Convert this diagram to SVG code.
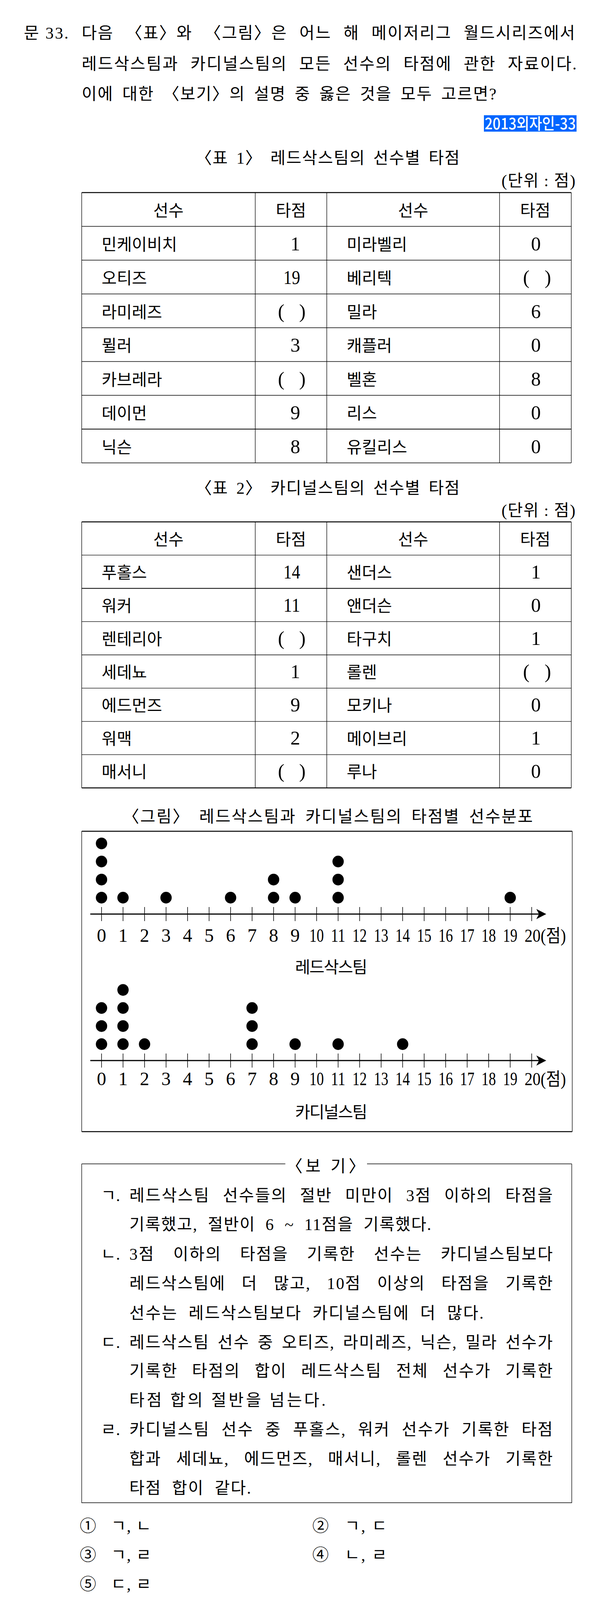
<svg xmlns="http://www.w3.org/2000/svg" width="1535" height="4141" viewBox="0 0 1535 4141">
<style>
.t{font-family:"Liberation Serif","Noto Sans CJK KR",serif;font-size:42px;fill:#000}
.m{text-anchor:middle}
.e{text-anchor:end}
.n{font-family:"Liberation Serif",serif;font-size:50px;fill:#000}
.ax{font-family:"Liberation Serif",serif;font-size:48px;fill:#000;text-anchor:middle}
.unit{font-family:"Liberation Serif","Noto Sans CJK KR",serif;font-size:46px;fill:#000}
.ln{stroke:#000;stroke-width:1.3;fill:none}
.th{stroke:#000;stroke-width:2.5;fill:none}
.mid{stroke:#000;stroke-width:2;fill:none}
.axis{stroke:#000;stroke-width:3;fill:none}
.tick{stroke:#000;stroke-width:1.5;fill:none}
.dot{fill:#000}
.tag{font-family:"Noto Sans CJK KR","Noto Sans",sans-serif;font-size:40px;font-weight:500;fill:#fff}
</style>
<rect width="1535" height="4141" fill="#fff"/>

<g id="question">
<text class="t" x="61" y="98.5" textLength="114" lengthAdjust="spacing">문 33.</text>
<text class="t" x="209" y="98.5" style="word-spacing:17.8px" textLength="1262" lengthAdjust="spacing">다음 〈표〉와 〈그림〉은 어느 해 메이저리그 월드시리즈에서</text>
<text class="t" x="209" y="178" style="word-spacing:16.8px" textLength="1266" lengthAdjust="spacing">레드삭스팀과 카디널스팀의 모든 선수의 타점에 관한 자료이다.</text>
<text class="t" x="209" y="255" style="word-spacing:9.5px" textLength="1061" lengthAdjust="spacing">이에 대한 〈보기〉의 설명 중 옳은 것을 모두 고르면?</text>
</g>

<g id="tag">
<rect x="1238" y="295" width="237" height="42" fill="#0066FF"/>
<text class="tag" x="1240" y="331" textLength="233" lengthAdjust="spacingAndGlyphs">2013외자인-33</text>
</g>

<g id="table1">
<text class="t" x="500" y="419" style="word-spacing:8px" textLength="676" lengthAdjust="spacing">〈표 1〉 레드삭스팀의 선수별 타점</text>
<text class="t" x="1283" y="477" textLength="189" lengthAdjust="spacing">(단위 : 점)</text>
<path class="th" d="M209,493 H1461.5"/>
<path class="ln" d="M209,579.5 H1461.5 M209,666 H1461.5 M209,752.5 H1461.5 M209,839 H1461.5 M209,925.5 H1461.5 M209,1012 H1461.5 M209,1185 H1461.5"/>
<path class="mid" d="M209,1098.5 H1461.5"/>
<path class="ln" d="M209,493 V1185 M653,493 V1185 M836,493 V1185 M1278,493 V1185 M1461.5,493 V1185"/>
<g class="t">
<text class="m" x="431" y="554">선수</text><text class="m" x="744.5" y="554">타점</text><text class="m" x="1057" y="554">선수</text><text class="m" x="1369.5" y="554">타점</text>
<text x="260" y="641">민케이비치</text><text x="887" y="641">미라벨리</text>
<text x="260" y="727">오티즈</text><text x="887" y="727">베리텍</text>
<text x="260" y="814">라미레즈</text><text x="887" y="814">밀라</text>
<text x="260" y="900">뮐러</text><text x="887" y="900">캐플러</text>
<text x="260" y="987">카브레라</text><text x="887" y="987">벨혼</text>
<text x="260" y="1073">데이먼</text><text x="887" y="1073">리스</text>
<text x="260" y="1160">닉슨</text><text x="887" y="1160">유킬리스</text>
</g>
<g class="n">
<text class="e" x="768" y="641">1</text><text class="m" x="1371" y="641">0</text>
<text class="e" x="768" y="727" textLength="43" lengthAdjust="spacingAndGlyphs">19</text><text x="1338" y="727">(</text><text class="e" x="1410" y="727">)</text>
<text x="711" y="814">(</text><text class="e" x="782" y="814">)</text><text class="m" x="1371" y="814">6</text>
<text class="e" x="768" y="900">3</text><text class="m" x="1371" y="900">0</text>
<text x="711" y="987">(</text><text class="e" x="782" y="987">)</text><text class="m" x="1371" y="987">8</text>
<text class="e" x="768" y="1073">9</text><text class="m" x="1371" y="1073">0</text>
<text class="e" x="768" y="1160">8</text><text class="m" x="1371" y="1160">0</text>
</g>
</g>

<g id="table2">
<text class="t" x="500" y="1264" style="word-spacing:8px" textLength="676" lengthAdjust="spacing">〈표 2〉 카디널스팀의 선수별 타점</text>
<text class="t" x="1283" y="1321" textLength="189" lengthAdjust="spacing">(단위 : 점)</text>
<path class="th" d="M209,1336 H1461.5 M209,2017 H1461.5"/>
<path class="ln" d="M209,1421.1 H1461.5 M209,1591.4 H1461.5 M209,1676.5 H1461.5 M209,1761.6 H1461.5 M209,1846.8 H1461.5 M209,1931.9 H1461.5"/>
<path class="mid" d="M209,1506.3 H1461.5"/>
<path class="ln" d="M209,1336 V2017 M653,1336 V2017 M836,1336 V2017 M1278,1336 V2017 M1461.5,1336 V2017"/>
<g class="t">
<text class="m" x="431" y="1396">선수</text><text class="m" x="744.5" y="1396">타점</text><text class="m" x="1057" y="1396">선수</text><text class="m" x="1369.5" y="1396">타점</text>
<text x="260" y="1481">푸홀스</text><text x="887" y="1481">샌더스</text>
<text x="260" y="1566">워커</text><text x="887" y="1566">앤더슨</text>
<text x="260" y="1651">렌테리아</text><text x="887" y="1651">타구치</text>
<text x="260" y="1736">세데뇨</text><text x="887" y="1736">롤렌</text>
<text x="260" y="1821">에드먼즈</text><text x="887" y="1821">모키나</text>
<text x="260" y="1906">워맥</text><text x="887" y="1906">메이브리</text>
<text x="260" y="1991">매서니</text><text x="887" y="1991">루나</text>
</g>
<g class="n">
<text class="e" x="768" y="1481" textLength="43" lengthAdjust="spacingAndGlyphs">14</text><text class="m" x="1371" y="1481">1</text>
<text class="e" x="768" y="1566" textLength="43" lengthAdjust="spacingAndGlyphs">11</text><text class="m" x="1371" y="1566">0</text>
<text x="711" y="1651">(</text><text class="e" x="782" y="1651">)</text><text class="m" x="1371" y="1651">1</text>
<text class="e" x="768" y="1736">1</text><text x="1338" y="1736">(</text><text class="e" x="1410" y="1736">)</text>
<text class="e" x="768" y="1821">9</text><text class="m" x="1371" y="1821">0</text>
<text class="e" x="768" y="1906">2</text><text class="m" x="1371" y="1906">1</text>
<text x="711" y="1991">(</text><text class="e" x="782" y="1991">)</text><text class="m" x="1371" y="1991">0</text>
</g>
</g>

<g id="figure">
<text class="t" x="314" y="2105" style="word-spacing:10px" textLength="1049" lengthAdjust="spacing">〈그림〉 레드삭스팀과 카디널스팀의 타점별 선수분포</text>
<path class="th" d="M209,2128 H1464 M209,2897 H1464"/>
<path class="ln" d="M209,2128 V2897 M1464,2128 V2897"/>

<g id="redsox">
<path class="axis" d="M231,2340 H1380"/>
<path d="M1397.5,2340 L1372,2327 L1379,2340 L1372,2353 Z" fill="#000"/>
<path class="tick" d="M259.7,2322V2358M314.7,2322V2358M369.8,2322V2358M424.8,2322V2358M479.8,2322V2358M534.9,2322V2358M589.9,2322V2358M644.9,2322V2358M699.9,2322V2358M755,2322V2358M810,2322V2358M865,2322V2358M920.1,2322V2358M975.1,2322V2358M1030.1,2322V2358M1085.2,2322V2358M1140.2,2322V2358M1195.2,2322V2358M1250.2,2322V2358M1305.3,2322V2358M1360.3,2322V2358"/>
<g class="dot">
<ellipse cx="259.7" cy="2298" rx="14.5" ry="15"/><ellipse cx="259.7" cy="2251.7" rx="14.5" ry="15"/><ellipse cx="259.7" cy="2205.5" rx="14.5" ry="15"/><ellipse cx="259.7" cy="2159.2" rx="14.5" ry="15"/>
<ellipse cx="314.7" cy="2298" rx="14.5" ry="15"/>
<ellipse cx="424.8" cy="2298" rx="14.5" ry="15"/>
<ellipse cx="589.9" cy="2298" rx="14.5" ry="15"/>
<ellipse cx="699.9" cy="2298" rx="14.5" ry="15"/><ellipse cx="699.9" cy="2251.7" rx="14.5" ry="15"/>
<ellipse cx="755" cy="2298" rx="14.5" ry="15"/>
<ellipse cx="865" cy="2298" rx="14.5" ry="15"/><ellipse cx="865" cy="2251.7" rx="14.5" ry="15"/><ellipse cx="865" cy="2205.5" rx="14.5" ry="15"/>
<ellipse cx="1305.3" cy="2298" rx="14.5" ry="15"/>
</g>
<g class="ax">
<text x="259.7" y="2411">0</text><text x="314.7" y="2411">1</text><text x="369.8" y="2411">2</text><text x="424.8" y="2411">3</text><text x="479.8" y="2411">4</text><text x="534.9" y="2411">5</text><text x="589.9" y="2411">6</text><text x="644.9" y="2411">7</text><text x="699.9" y="2411">8</text><text x="755" y="2411">9</text>
<text x="810" y="2411" textLength="37" lengthAdjust="spacingAndGlyphs">10</text><text x="865" y="2411" textLength="37" lengthAdjust="spacingAndGlyphs">11</text><text x="920.1" y="2411" textLength="37" lengthAdjust="spacingAndGlyphs">12</text><text x="975.1" y="2411" textLength="37" lengthAdjust="spacingAndGlyphs">13</text><text x="1030.1" y="2411" textLength="37" lengthAdjust="spacingAndGlyphs">14</text><text x="1085.2" y="2411" textLength="37" lengthAdjust="spacingAndGlyphs">15</text><text x="1140.2" y="2411" textLength="37" lengthAdjust="spacingAndGlyphs">16</text><text x="1195.2" y="2411" textLength="37" lengthAdjust="spacingAndGlyphs">17</text><text x="1250.2" y="2411" textLength="37" lengthAdjust="spacingAndGlyphs">18</text><text x="1305.3" y="2411" textLength="37" lengthAdjust="spacingAndGlyphs">19</text>
</g>
<text class="unit" x="1342" y="2411" textLength="106" lengthAdjust="spacingAndGlyphs">20(점)</text>
<text class="t" x="755" y="2491" textLength="185" lengthAdjust="spacing">레드삭스팀</text>
</g>

<g id="cardinals">
<path class="axis" d="M231,2715 H1380"/>
<path d="M1397.5,2715 L1372,2702 L1379,2715 L1372,2728 Z" fill="#000"/>
<path class="tick" d="M259.7,2697V2733M314.7,2697V2733M369.8,2697V2733M424.8,2697V2733M479.8,2697V2733M534.9,2697V2733M589.9,2697V2733M644.9,2697V2733M699.9,2697V2733M755,2697V2733M810,2697V2733M865,2697V2733M920.1,2697V2733M975.1,2697V2733M1030.1,2697V2733M1085.2,2697V2733M1140.2,2697V2733M1195.2,2697V2733M1250.2,2697V2733M1305.3,2697V2733M1360.3,2697V2733"/>
<g class="dot">
<ellipse cx="259.7" cy="2673" rx="14.5" ry="15"/><ellipse cx="259.7" cy="2626.7" rx="14.5" ry="15"/><ellipse cx="259.7" cy="2580.5" rx="14.5" ry="15"/>
<ellipse cx="314.7" cy="2673" rx="14.5" ry="15"/><ellipse cx="314.7" cy="2626.7" rx="14.5" ry="15"/><ellipse cx="314.7" cy="2580.5" rx="14.5" ry="15"/><ellipse cx="314.7" cy="2534.2" rx="14.5" ry="15"/>
<ellipse cx="369.8" cy="2673" rx="14.5" ry="15"/>
<ellipse cx="644.9" cy="2673" rx="14.5" ry="15"/><ellipse cx="644.9" cy="2626.7" rx="14.5" ry="15"/><ellipse cx="644.9" cy="2580.5" rx="14.5" ry="15"/>
<ellipse cx="755" cy="2673" rx="14.5" ry="15"/>
<ellipse cx="865" cy="2673" rx="14.5" ry="15"/>
<ellipse cx="1030.1" cy="2673" rx="14.5" ry="15"/>
</g>
<g class="ax">
<text x="259.7" y="2778">0</text><text x="314.7" y="2778">1</text><text x="369.8" y="2778">2</text><text x="424.8" y="2778">3</text><text x="479.8" y="2778">4</text><text x="534.9" y="2778">5</text><text x="589.9" y="2778">6</text><text x="644.9" y="2778">7</text><text x="699.9" y="2778">8</text><text x="755" y="2778">9</text>
<text x="810" y="2778" textLength="37" lengthAdjust="spacingAndGlyphs">10</text><text x="865" y="2778" textLength="37" lengthAdjust="spacingAndGlyphs">11</text><text x="920.1" y="2778" textLength="37" lengthAdjust="spacingAndGlyphs">12</text><text x="975.1" y="2778" textLength="37" lengthAdjust="spacingAndGlyphs">13</text><text x="1030.1" y="2778" textLength="37" lengthAdjust="spacingAndGlyphs">14</text><text x="1085.2" y="2778" textLength="37" lengthAdjust="spacingAndGlyphs">15</text><text x="1140.2" y="2778" textLength="37" lengthAdjust="spacingAndGlyphs">16</text><text x="1195.2" y="2778" textLength="37" lengthAdjust="spacingAndGlyphs">17</text><text x="1250.2" y="2778" textLength="37" lengthAdjust="spacingAndGlyphs">18</text><text x="1305.3" y="2778" textLength="37" lengthAdjust="spacingAndGlyphs">19</text>
</g>
<text class="unit" x="1342" y="2778" textLength="106" lengthAdjust="spacingAndGlyphs">20(점)</text>
<text class="t" x="755" y="2862" textLength="185" lengthAdjust="spacing">카디널스팀</text>
</g>
</g>

<g id="bogi">
<path class="ln" d="M209,2979.5 H730 M939,2979.5 H1462.7 M209,2979.5 V3847 H1462.7 V2979.5"/>
<text class="t" x="732" y="3000" textLength="202" lengthAdjust="spacing">〈보  기〉</text>
<g class="t">
<text x="258" y="3075">ㄱ.</text>
<text x="331" y="3075" style="word-spacing:19.5px" textLength="1083" lengthAdjust="spacing">레드삭스팀 선수들의 절반 미만이 3점 이하의 타점을</text>
<text x="331" y="3149" style="word-spacing:13.4px" textLength="772" lengthAdjust="spacing">기록했고, 절반이 6 ~ 11점을 기록했다.</text>
<text x="258" y="3225">ㄴ.</text>
<text x="331" y="3225" style="word-spacing:34px" textLength="1083" lengthAdjust="spacing">3점 이하의 타점을 기록한 선수는 카디널스팀보다</text>
<text x="331" y="3300" style="word-spacing:28px" textLength="1083" lengthAdjust="spacing">레드삭스팀에 더 많고, 10점 이상의 타점을 기록한</text>
<text x="331" y="3376" style="word-spacing:14px" textLength="906" lengthAdjust="spacing">선수는 레드삭스팀보다 카디널스팀에 더 많다.</text>
<text x="258" y="3451">ㄷ.</text>
<text x="331" y="3451" style="word-spacing:7.7px" textLength="1083" lengthAdjust="spacing">레드삭스팀 선수 중 오티즈, 라미레즈, 닉슨, 밀라 선수가</text>
<text x="331" y="3524" style="word-spacing:23px" textLength="1083" lengthAdjust="spacing">기록한 타점의 합이 레드삭스팀 전체 선수가 기록한</text>
<text x="331" y="3599" textLength="502" lengthAdjust="spacing">타점 합의 절반을 넘는다.</text>
<text x="258" y="3674">ㄹ.</text>
<text x="331" y="3674" style="word-spacing:16.7px" textLength="1083" lengthAdjust="spacing">카디널스팀 선수 중 푸홀스, 워커 선수가 기록한 타점</text>
<text x="331" y="3749" style="word-spacing:24.7px" textLength="1083" lengthAdjust="spacing">합과 세데뇨, 에드먼즈, 매서니, 롤렌 선수가 기록한</text>
<text x="331" y="3824" style="word-spacing:13.7px" textLength="311" lengthAdjust="spacing">타점 합이 같다.</text>
</g>
</g>

<g id="choices" class="t">
<text x="204" y="3921">①</text><text x="284" y="3921" textLength="103" lengthAdjust="spacing">ㄱ, ㄴ</text>
<text x="799" y="3921">②</text><text x="882" y="3921" textLength="108" lengthAdjust="spacing">ㄱ, ㄷ</text>
<text x="204" y="3995">③</text><text x="284" y="3995" textLength="103" lengthAdjust="spacing">ㄱ, ㄹ</text>
<text x="799" y="3995">④</text><text x="882" y="3995" textLength="108" lengthAdjust="spacing">ㄴ, ㄹ</text>
<text x="204" y="4070">⑤</text><text x="284" y="4070" textLength="103" lengthAdjust="spacing">ㄷ, ㄹ</text>
</g>
</svg>
